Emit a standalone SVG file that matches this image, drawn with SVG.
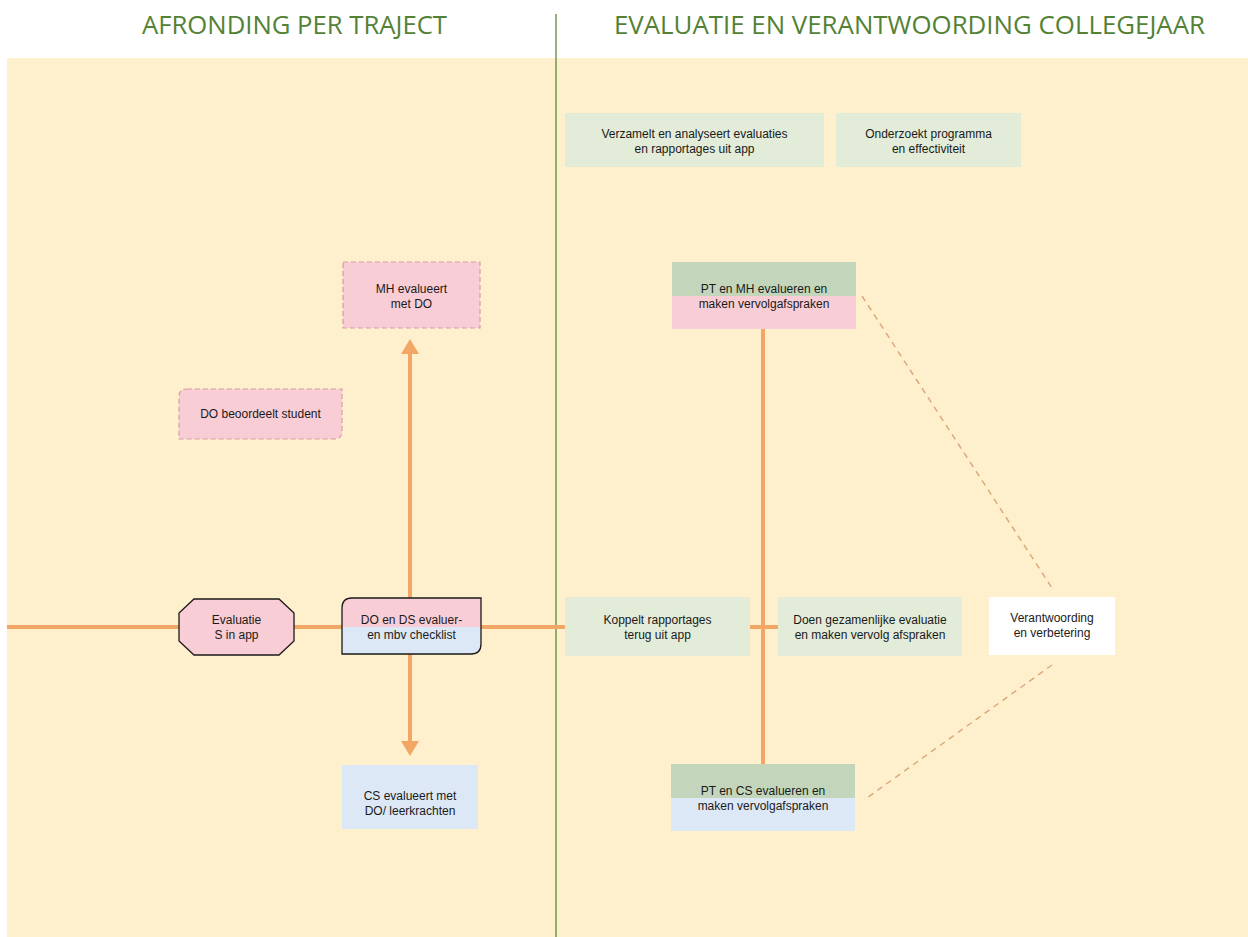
<svg xmlns="http://www.w3.org/2000/svg" width="1248" height="937" viewBox="0 0 1248 937">
<style>
.title{font-family:"Open Sans","Liberation Sans",sans-serif;font-size:25px;fill:#548235;}
.t{font-family:"Liberation Sans",Arial,sans-serif;font-size:12px;fill:#1a1a1a;text-anchor:middle;}
.pink{fill:#f9cdd5;}
.blue{fill:#dce8f5;}
.green{fill:#e2ecd9;}
.dgreen{fill:#c3d6bb;}
.dash{fill:none;stroke:#d69aa6;stroke-width:1.2;stroke-dasharray:5 3;}
.solid{fill:none;stroke:#1a1a1a;stroke-width:1.3;}
.orange{stroke:#f2a766;stroke-width:4;fill:none;}
.ddash{stroke:#d9aa7a;stroke-width:1.5;stroke-dasharray:6 5;fill:none;}
</style>
<rect x="0" y="0" width="1248" height="937" fill="#ffffff"/>
<rect x="7" y="58" width="1241" height="879" fill="#fff0cd"/>
<line x1="556" y1="14" x2="556" y2="937" stroke="#4f7f2f" stroke-width="1.2"/>
<text class="title" x="142" y="34" textLength="305" lengthAdjust="spacingAndGlyphs">AFRONDING PER TRAJECT</text>
<text class="title" x="614" y="34" textLength="591" lengthAdjust="spacingAndGlyphs">EVALUATIE EN VERANTWOORDING COLLEGEJAAR</text>

<g id="connectors">
<line class="orange" x1="7" y1="627" x2="778" y2="627"/>
<line class="orange" x1="763" y1="329" x2="763" y2="764"/>
<line class="orange" x1="410" y1="352" x2="410" y2="598"/>
<polygon points="410,339 401,354 419,354" fill="#f2a766"/>
<line class="orange" x1="410" y1="654" x2="410" y2="744"/>
<polygon points="410,756 401,741 419,741" fill="#f2a766"/>
<line class="ddash" x1="862" y1="296" x2="1052" y2="588"/>
<line class="ddash" x1="1052" y1="665" x2="864" y2="800"/>
</g>

<g id="n-mh-evalueert">
<rect class="pink" x="343" y="262" width="137" height="66"/>
<rect class="dash" x="343" y="262" width="137" height="66"/>
<text class="t" x="411.5" y="293">MH evalueert</text>
<text class="t" x="411.5" y="308">met DO</text>
</g>

<g id="n-do-beoordeelt">
<path class="pink" d="M187,389 H342 V431 Q342,439 334,439 H179 V397 Q179,389 187,389 Z"/>
<path class="dash" d="M187,389 H342 V431 Q342,439 334,439 H179 V397 Q179,389 187,389 Z"/>
<text class="t" x="260.5" y="418">DO beoordeelt student</text>
</g>

<g id="n-evaluatie-s">
<polygon class="pink" points="194,599 279,599 294,613 294,641 279,655 194,655 179,641 179,613"/>
<polygon class="solid" points="194,599 279,599 294,613 294,641 279,655 194,655 179,641 179,613"/>
<text class="t" x="236.5" y="624">Evaluatie</text>
<text class="t" x="236.5" y="639">S in app</text>
</g>

<g id="n-do-ds">
<path class="pink" d="M352,598 H481 V627 H342 V608 Q342,598 352,598 Z"/>
<path class="blue" d="M342,627 H481 V644 Q481,654 471,654 H342 Z"/>
<path class="solid" d="M352,598 H481 V644 Q481,654 471,654 H342 V608 Q342,598 352,598 Z"/>
<text class="t" x="411.5" y="624">DO en DS evaluer-</text>
<text class="t" x="411.5" y="639">en mbv checklist</text>
</g>

<g id="n-cs-evalueert">
<rect class="blue" x="342" y="765" width="136" height="64"/>
<text class="t" x="410" y="800">CS evalueert met</text>
<text class="t" x="410" y="815">DO/ leerkrachten</text>
</g>

<g id="n-verzamelt">
<rect class="green" x="565" y="113" width="259" height="54"/>
<text class="t" x="694.5" y="138">Verzamelt en analyseert evaluaties</text>
<text class="t" x="694.5" y="153">en rapportages uit app</text>
</g>

<g id="n-onderzoekt">
<rect class="green" x="836" y="113" width="185" height="54"/>
<text class="t" x="928.5" y="138">Onderzoekt programma</text>
<text class="t" x="928.5" y="153">en effectiviteit</text>
</g>

<g id="n-pt-mh">
<rect class="dgreen" x="672" y="262" width="184" height="34"/>
<rect class="pink" x="672" y="296" width="184" height="33"/>
<text class="t" x="764" y="293">PT en MH evalueren en</text>
<text class="t" x="764" y="308">maken vervolgafspraken</text>
</g>

<g id="n-koppelt">
<rect class="green" x="565" y="597" width="185" height="59"/>
<text class="t" x="657.5" y="624">Koppelt rapportages</text>
<text class="t" x="657.5" y="639">terug uit app</text>
</g>

<g id="n-doen">
<rect class="green" x="778" y="597" width="184" height="59"/>
<text class="t" x="870" y="624">Doen gezamenlijke evaluatie</text>
<text class="t" x="870" y="639">en maken vervolg afspraken</text>
</g>

<g id="n-verantwoording">
<rect fill="#ffffff" x="989" y="597" width="126" height="58"/>
<text class="t" x="1052" y="622">Verantwoording</text>
<text class="t" x="1052" y="637">en verbetering</text>
</g>

<g id="n-pt-cs">
<rect class="dgreen" x="671" y="764" width="184" height="34"/>
<rect class="blue" x="671" y="798" width="184" height="33"/>
<text class="t" x="763" y="795">PT en CS evalueren en</text>
<text class="t" x="763" y="810">maken vervolgafspraken</text>
</g>
</svg>
